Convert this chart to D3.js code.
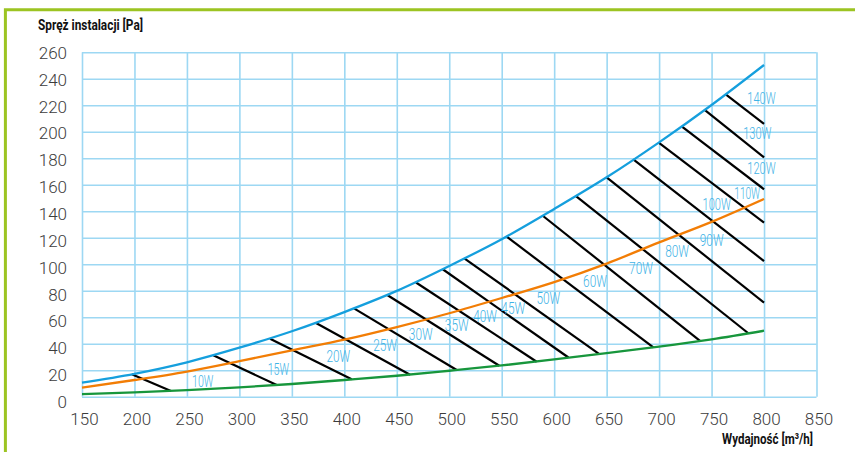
<!DOCTYPE html>
<html>
<head>
<meta charset="utf-8">
<script src="https://cdn.jsdelivr.net/npm/d3@7"></script>
<style>
  html, body { margin: 0; padding: 0; background: #fff; }
  svg { display: block; }
</style>
</head>
<body>
<svg id="chart" width="855" height="452"></svg>
<script>
// ---------- DATA ----------
const flowTicks = [150, 200, 250, 300, 350, 400, 450, 500, 550, 600, 650, 700, 750, 800, 850];
const pressureTicks = [0, 20, 40, 60, 80, 100, 120, 140, 160, 180, 200, 220, 240, 260];

const curveFlow = [150, 200, 250, 300, 350, 400, 450, 500, 550, 600, 650, 700, 750, 800];
const bluePressure   = [10.6, 17.3, 26, 37, 49.4, 63.9, 79.9, 98.7, 118.9, 141.7, 165.6, 192, 220.2, 250.4];
const orangePressure = [6.8, 12.6, 19, 26.8, 35, 43, 52.5, 63, 74.5, 86.5, 100.5, 116.5, 132, 149.3];
const greenPressure  = [2.0, 3.2, 4.9, 7.0, 9.6, 12.6, 15.8, 19.6, 23.6, 28.1, 32.9, 37.8, 43.3, 49.8];

const hatchLabels   = ["10W","15W","20W","25W","30W","35W","40W","45W","50W","60W","70W","80W","90W","100W","110W","120W","130W","140W"];
const hatchStartFlow = [197.4, 275.1, 329.2, 373.0, 409.2, 440.9, 468.3, 493.8, 514.3, 554.7, 589.1, 620.8, 650.0, 675.4, 699.6, 721.8, 743.7, 763.5];
const hatchStartPres = [16.9, 31.3, 43.8, 55.6, 66.7, 76.8, 86.2, 96.2, 104.5, 120.8, 136.6, 151.5, 165.6, 179.2, 191.8, 203.8, 216.4, 228.3];
const hatchEndFlow   = [234.8, 335.6, 407.0, 462.6, 507.1, 547.7, 583.3, 613.6, 643.0, 694.5, 739.0, 785.0, 800, 800, 800, 800, 800, 800];
const hatchEndPres   = [4.3, 8.8, 13.1, 16.6, 20.2, 23.4, 26.4, 29.6, 32.2, 37.3, 42.1, 47.9, 71.0, 102.4, 131.4, 156.6, 180.7, 205.9];
const labelFlow      = [265.0, 337.1, 394.3, 438.8, 472.8, 507.1, 534.1, 561.0, 594.4, 638.9, 682.7, 717.1, 750.1, 754.9, 784.0, 797.6, 793.6, 797.6];
const labelPres      = [12.1, 20.7, 30.7, 39.0, 47.1, 54.1, 60.9, 66.7, 74.3, 87.6, 97.2, 110.0, 118.3, 145.5, 153.6, 172.5, 198.9, 225.3];

const yTitle = "Spręż instalacji [Pa]";
const xTitle = "Wydajność [m³/h]";

// ---------- LAYOUT ----------
const svg = d3.select("#chart");
const plotL = 82, plotR = 816.5, plotT = 52.3, plotB = 396.7;
const x = d3.scaleLinear().domain([150, 850]).range([plotL, plotR]);
const y = d3.scaleLinear().domain([0, 260]).range([plotB, plotT]);
const yLab = d3.scaleLinear().domain([0, 260]).range([plotB + 4.6, plotT]);

svg.append("rect").attr("width", 855).attr("height", 452).attr("fill", "#fff");

// green frame (left + top)
svg.append("path")
  .attr("d", "M5.4,452 L5.4,9.7 L855,9.7")
  .attr("fill", "none").attr("stroke", "#9cc422").attr("stroke-width", 3);

const gridColor = "#9dd8f3";

// grid via axes
const gx = svg.append("g").attr("transform", `translate(0,${plotB})`)
  .call(d3.axisBottom(x).tickValues(flowTicks).tickSize(-(plotB - plotT)).tickFormat(""));
const gy = svg.append("g").attr("transform", `translate(${plotL},0)`)
  .call(d3.axisLeft(y).tickValues(pressureTicks).tickSize(-(plotR - plotL)).tickFormat(""));
[gx, gy].forEach(g => {
  g.select(".domain").remove();
  g.selectAll(".tick line").attr("stroke", gridColor).attr("stroke-width", 1.6);
});

// tick labels
const lx = svg.append("g").attr("transform", `translate(0,${plotB})`)
  .call(d3.axisBottom(x).tickValues(flowTicks).tickSize(0));
lx.select(".domain").remove();
lx.selectAll(".tick text").attr("y", 28).attr("dy", 0).attr("dx", 2);

const ly = svg.append("g").attr("transform", `translate(67,0)`)
  .call(d3.axisLeft(yLab).tickValues(pressureTicks).tickSize(0).tickPadding(0));
ly.select(".domain").remove();
ly.selectAll(".tick text").attr("dy", "0.36em");

[lx, ly].forEach(g => g.selectAll(".tick text")
  .attr("font-family", "Roboto, 'Open Sans', sans-serif")
  .attr("font-weight", 300)
  .attr("font-size", 17)
  .attr("fill", "#3c3c3c"));

// curves
const line = d3.line().x(d => x(d[0])).y(d => y(d[1])).curve(d3.curveMonotoneX);
const series = [
  { vals: greenPressure, color: "#17963c" },
  { vals: orangePressure, color: "#f27d05" },
  { vals: bluePressure, color: "#159fdd" }
];

// hatch lines
svg.append("g").selectAll("line")
  .data(hatchLabels.map((l, i) => i))
  .join("line")
  .attr("x1", i => x(hatchStartFlow[i])).attr("y1", i => y(hatchStartPres[i]))
  .attr("x2", i => x(hatchEndFlow[i])).attr("y2", i => y(hatchEndPres[i]))
  .attr("stroke", "#000").attr("stroke-width", 2.2);

svg.append("g").selectAll("path")
  .data(series)
  .join("path")
  .attr("d", s => line(curveFlow.map((f, i) => [f, s.vals[i]])))
  .attr("fill", "none")
  .attr("stroke", s => s.color)
  .attr("stroke-width", 2.3);

// power labels (condensed font look: narrow "1")
const labelWidth = s => Array.from(s).reduce((w, c) => w + (c === "1" ? 4.5 : c === "W" ? 9.8 : 7), 0);
svg.append("g").selectAll("text")
  .data(hatchLabels.map((l, i) => i))
  .join("text")
  .attr("x", i => x(labelFlow[i])).attr("y", i => y(labelPres[i]))
  .attr("dy", "0.36em")
  .attr("text-anchor", "middle")
  .attr("font-family", "Roboto, 'Open Sans', sans-serif")
  .attr("font-weight", 300)
  .attr("font-size", 16.5)
  .attr("fill", "#3fb3e6")
  .attr("textLength", i => labelWidth(hatchLabels[i]))
  .attr("lengthAdjust", "spacingAndGlyphs")
  .text(i => hatchLabels[i]);

// axis titles
svg.append("text")
  .attr("x", 38).attr("y", 30)
  .attr("font-family", "Roboto, 'Open Sans', sans-serif")
  .attr("font-weight", 700).attr("font-size", 14.5)
  .attr("textLength", 105).attr("lengthAdjust", "spacingAndGlyphs")
  .attr("fill", "#111")
  .text(yTitle);

svg.append("text")
  .attr("x", 722).attr("y", 443.5)
  .attr("font-family", "Roboto, 'Open Sans', sans-serif")
  .attr("font-weight", 700).attr("font-size", 15)
  .attr("textLength", 91).attr("lengthAdjust", "spacingAndGlyphs")
  .attr("fill", "#111")
  .text(xTitle);
</script>
</body>
</html>
